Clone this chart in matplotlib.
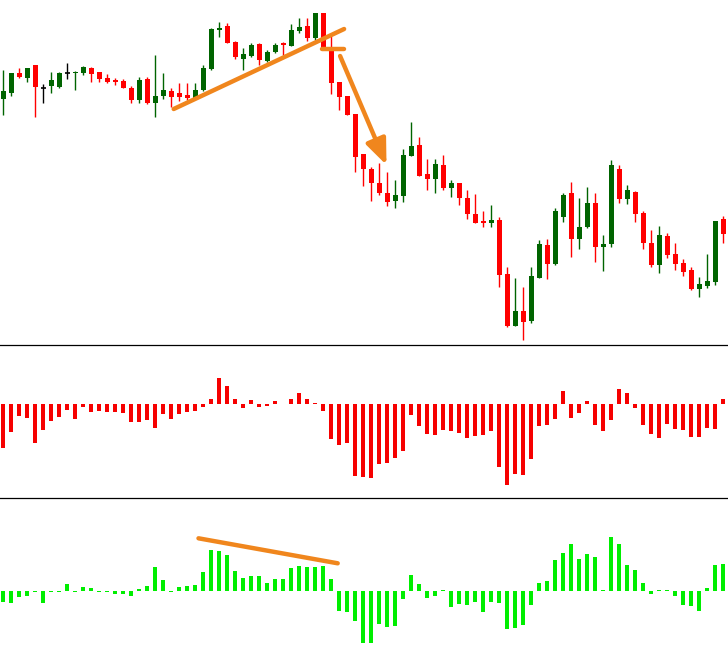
import matplotlib
matplotlib.use("Agg")
import matplotlib.pyplot as plt
import numpy as np

# ---------------- data ----------------
opens = [301.0, 307.0, 327.0, 322.3, 335.0, 311.7, 314.3, 313.0, 327.0, 326.7,
         327.3, 332.0, 328.0, 322.0, 320.0, 319.0, 312.0, 300.0, 321.0, 297.3,
         304.3, 309.0, 307.0, 305.0, 302.0, 310.0, 331.0, 370.3, 374.0, 358.0,
         341.0, 344.3, 356.5, 339.0, 347.7, 356.7, 354.3, 369.3, 374.0, 362.3,
         387.0, 350.0, 318.3, 304.3, 286.0, 245.7, 231.0, 217.3, 207.3, 199.0,
         204.3, 244.3, 255.0, 226.0, 221.0, 235.0, 212.3, 217.0, 201.8, 186.0,
         179.2, 177.5, 180.2, 126.0, 74.0, 89.0, 79.2, 122.3, 155.0, 136.5,
         183.3, 207.0, 161.3, 173.0, 197.0, 153.3, 156.3, 231.0, 201.0, 208.3,
         187.0, 157.0, 135.3, 164.0, 146.0, 137.0, 130.0, 111.3, 114.0, 118.0,
         181.0]
highs = [330.0, 327.0, 332.0, 332.0, 335.0, 316.0, 328.0, 328.3, 337.0, 329.0,
         334.0, 333.0, 328.0, 326.0, 322.0, 321.0, 314.0, 323.0, 323.0, 345.0,
         327.3, 312.0, 317.0, 317.0, 317.0, 335.0, 372.0, 378.0, 377.0, 359.0,
         352.0, 357.3, 357.5, 349.7, 356.7, 358.5, 376.0, 382.0, 382.0, 387.0,
         387.0, 364.0, 318.3, 304.3, 286.0, 245.7, 233.3, 237.3, 228.3, 220.0,
         250.7, 277.7, 262.7, 241.0, 241.0, 245.0, 220.0, 217.0, 210.0, 206.0,
         189.0, 195.0, 182.7, 132.7, 122.0, 113.0, 133.0, 160.0, 161.0, 191.7,
         207.0, 218.0, 202.0, 213.0, 207.0, 165.0, 240.0, 235.0, 215.0, 209.0,
         189.3, 170.0, 174.0, 167.0, 157.0, 141.0, 133.3, 123.0, 146.0, 179.0,
         184.0]
lows = [285.0, 304.3, 322.3, 318.3, 283.3, 297.3, 307.3, 312.3, 321.3, 309.7,
        325.3, 318.3, 318.3, 317.3, 315.3, 312.0, 296.7, 297.3, 296.3, 283.3,
        301.0, 293.3, 298.7, 300.0, 302.0, 309.3, 330.0, 362.7, 357.3, 341.3,
        330.0, 343.3, 335.5, 337.7, 346.7, 345.0, 354.3, 366.7, 359.3, 360.0,
        351.0, 305.7, 290.0, 285.0, 228.3, 214.3, 199.0, 205.0, 194.0, 191.7,
        197.7, 244.3, 224.3, 210.0, 206.7, 210.0, 203.3, 195.5, 181.5, 177.3,
        173.3, 173.3, 113.3, 73.3, 74.0, 60.0, 76.7, 122.3, 121.0, 135.0,
        178.3, 143.3, 151.0, 172.0, 138.3, 129.3, 153.3, 197.3, 196.3, 178.3,
        151.0, 133.3, 127.3, 142.3, 130.3, 124.3, 110.0, 103.3, 112.3, 115.3,
        157.3]
closes = [309.3, 327.0, 323.0, 332.0, 313.3, 311.7, 320.0, 327.3, 327.0, 328.3,
          333.0, 326.3, 321.3, 318.0, 318.3, 312.3, 300.3, 320.0, 297.0, 303.7,
          310.0, 303.3, 303.3, 302.3, 310.0, 332.0, 371.0, 372.0, 357.3, 343.3,
          346.0, 355.3, 340.0, 348.0, 355.0, 354.8, 370.0, 372.7, 362.3, 387.0,
          351.0, 317.5, 303.3, 285.0, 243.3, 231.0, 217.3, 206.7, 197.7, 205.0,
          245.0, 254.0, 224.3, 221.0, 236.0, 212.5, 217.0, 202.3, 186.5, 177.3,
          177.5, 180.0, 125.2, 74.0, 89.0, 78.2, 124.2, 156.0, 136.0, 189.0,
          205.0, 161.3, 172.8, 197.0, 153.3, 156.0, 235.0, 201.0, 210.0, 186.3,
          157.3, 135.0, 165.0, 145.3, 136.3, 128.3, 111.0, 116.0, 119.0, 179.0,
          166.3]

red_hist = [-44, -28, -12.3, -14, -39, -26, -17, -13, -6.3, -15,
            -3, -8, -7, -8, -8, -9, -18, -18, -16.3, -24,
            -10, -15, -10, -8, -7, -3, 4.7, 25.7, 17.7, 4.7,
            -4, 3.7, -3, -2, 2.7, -0.7, 4.7, 10.7, 4.7, 0.7,
            -7, -35, -41, -39, -72, -73, -74, -60, -59, -54,
            -47, -11, -22, -30.3, -31, -26, -27, -29, -34, -32,
            -31, -27, -63, -81, -70, -71, -55, -22, -21, -15,
            12.7, -14, -9, 2.7, -21, -27, -16, 14.7, 10.7, -4,
            -21, -30, -34, -20, -25, -26, -33, -33, -24, -25,
            4.7]

green_hist = [-10.7, -11.7, -5.7, -4.7, -0.6, -11.7, -0.6, -0.6, 7.3, -0.6,
              4, 3, -0.6, -0.6, -2.7, -2.7, -4.7, 2, 5.3, 24,
              11, -0.6, 4, 5.3, 6.3, 19, 41, 40, 36, 20,
              13.3, 15, 15, 8, 12, 12, 23, 25, 24, 24,
              25, 12, -19.7, -20.7, -29.7, -51.7, -51.7, -32.7, -35.7, -34.7,
              -7.7, 16, 7, -6.7, -4.7, 1.3, -15.7, -12.7, -13.7, -10.7,
              -20.7, -10.7, -11.7, -37.7, -36.7, -33.7, -13.7, 8, 10, 31,
              38, 47, 32, 37, 34, 0.6, 54, 47, 26, 21,
              8, -2.7, 0.6, 0.6, -4.7, -13.7, -14.7, -19.7, 3, 26,
              27]

# annotation anchors (bar index, value)
trend_x = [21.3, 42.6]
trend_y = [291.0, 371.0]
flat_x = [39.8, 42.6]
flat_y = [351.0, 351.0]
arrow_from = (42.1, 344.0)
arrow_to = (47.9, 235.0)
osc_x = [24.4, 41.8]
osc_y = [52.7, 27.7]

# ---------------- styling ----------------
UP = "#006400"
DOWN = "#ff0000"
DOJI = "#000000"
HIST_RED = "#f60000"
HIST_GREEN = "#00ee00"
ORANGE = "#f0861d"

W, H = 728, 651
fig = plt.figure(figsize=(W / 100, H / 100), dpi=100)
fig.patch.set_facecolor("white")

def px_axes(top, bottom):
    return fig.add_axes([0, 1 - bottom / H, 1, (bottom - top) / H])

ax1 = px_axes(0, 345)
ax2 = px_axes(345, 498)
ax3 = px_axes(498, 651)

x = np.arange(len(opens))
xlim = (-3.3 / 8, (W - 3.3) / 8)

for ax in (ax1, ax2, ax3):
    ax.set_xlim(*xlim)
    ax.set_xticks([])
    ax.set_yticks([])
    for s in ax.spines.values():
        s.set_visible(False)
    ax.set_facecolor("white")

for ax in (ax2, ax3):
    ax.spines["top"].set_visible(True)
    ax.spines["top"].set_color("#000000")
    ax.spines["top"].set_linewidth(0.9)

# ---------------- candles ----------------
o = np.array(opens); c = np.array(closes); hi = np.array(highs); lo = np.array(lows)
cols = np.where(c > o, UP, np.where(c < o, DOWN, DOJI))
ax1.vlines(x, lo, hi, colors=cols, linewidth=1.0, zorder=2)
body_b = np.minimum(o, c)
body_h = np.abs(c - o)
mask = body_h > 0
ax1.bar(x[mask], body_h[mask], bottom=body_b[mask], width=0.6,
        color=cols[mask], linewidth=0, zorder=3)
doji = ~mask
ax1.hlines(o[doji], x[doji] - 0.32, x[doji] + 0.32, colors=DOJI, linewidth=1.2, zorder=3)
ax1.set_ylim(55, 400)

# annotations on price panel
ax1.plot(trend_x, trend_y, color=ORANGE, lw=3.2, solid_capstyle="round", zorder=5)
ax1.plot(flat_x, flat_y, color=ORANGE, lw=3.2, solid_capstyle="round", zorder=5)
ax1.annotate("", xy=arrow_to, xytext=arrow_from,
             arrowprops=dict(arrowstyle="-|>,head_length=1.1,head_width=0.45",
                             color=ORANGE, lw=3.2, shrinkA=0, shrinkB=0,
                             mutation_scale=14, capstyle="round"), zorder=5)

# ---------------- histograms ----------------
ax2.bar(x, red_hist, width=0.5, color=HIST_RED, linewidth=0)
ax2.set_ylim(-94.3, 58.7)

ax3.bar(x, green_hist, width=0.5, color=HIST_GREEN, linewidth=0)
ax3.set_ylim(-60, 93)
ax3.plot(osc_x, osc_y, color=ORANGE, lw=3.2, solid_capstyle="round", zorder=5)

fig.savefig("out.png", dpi=100, facecolor="white")
